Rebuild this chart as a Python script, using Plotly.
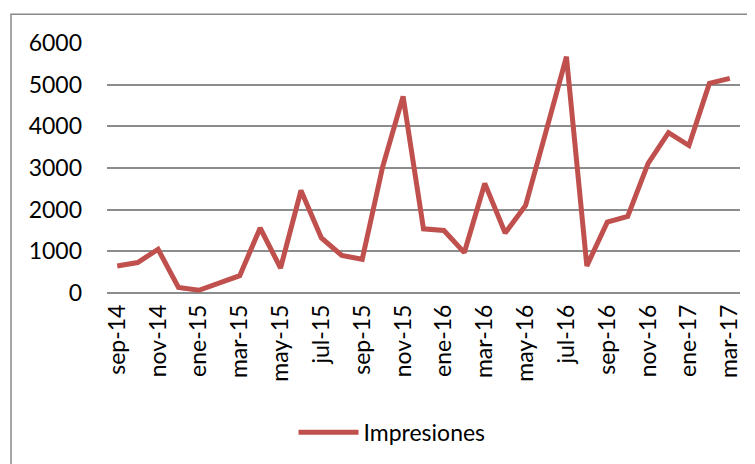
import plotly.graph_objects as go

months = ["sep-14", "oct-14", "nov-14", "dic-14", "ene-15", "feb-15", "mar-15", "abr-15",
          "may-15", "jun-15", "jul-15", "ago-15", "sep-15", "oct-15", "nov-15", "dic-15",
          "ene-16", "feb-16", "mar-16", "abr-16", "may-16", "jun-16", "jul-16", "ago-16",
          "sep-16", "oct-16", "nov-16", "dic-16", "ene-17", "feb-17", "mar-17"]
impresiones = [650, 730, 1050, 135, 65, 240, 415, 1560, 600, 2460, 1320, 900, 810, 3030,
               4720, 1540, 1500, 970, 2630, 1440, 2100, 3880, 5670, 650, 1700, 1840, 3110,
               3850, 3540, 5030, 5150]
tick_labels = months[::2]
y_ticks = [0, 1000, 2000, 3000, 4000, 5000, 6000]

FONT = "Lato"
grid = "#8c8c8c"

fig = go.Figure()
fig.add_trace(go.Scatter(
    x=months, y=impresiones, mode="lines", name="Impresiones",
    line=dict(color="#C0504D", width=5, shape="linear"),
))

# the page body adds an 8px offset; positions below are relative to the figure
OFF = 8
W, H = 755, 464
L, T = 107 - OFF, 42.7 - OFF
R = W - (740 - OFF)
B = H - (293.3 - OFF)
pw, ph = W - L - R, H - T - B
plot_bottom = 293.3 - OFF

fig.update_layout(
    width=W, height=H,
    margin=dict(l=L, r=R, t=T, b=B, pad=0, autoexpand=False),
    paper_bgcolor="white", plot_bgcolor="white",
    font=dict(family=FONT, size=23, color="#000000"),
    showlegend=True,
    legend=dict(orientation="h", x=(392 - OFF - L) / pw, xanchor="center",
                y=(plot_bottom - (433 - OFF)) / ph, yanchor="middle",
                font=dict(family=FONT, size=23), itemwidth=60,
                bgcolor="rgba(0,0,0,0)"),
    xaxis=dict(type="category", categoryorder="array", categoryarray=months,
               range=[-0.5, len(months) - 0.5],
               tickmode="array", tickvals=tick_labels, ticktext=tick_labels,
               tickangle=-90, showgrid=False, showline=False, zeroline=False,
               ticks="", ticklabelstandoff=6),
    yaxis=dict(range=[0, 6000], tickvals=y_ticks, showgrid=True, gridcolor=grid,
               gridwidth=1.5, zeroline=True, zerolinecolor=grid, zerolinewidth=1.5,
               showline=False, ticks="", ticklabelstandoff=24),
    shapes=[dict(type="rect", xref="paper", yref="paper",
                 x0=(11 - OFF - L) / pw, x1=(W + 20 - L) / pw,
                 y0=(plot_bottom - (H + 20)) / ph, y1=(plot_bottom - (14 - OFF)) / ph,
                 line=dict(color="#888888", width=1.5), layer="below")],
)

fig.write_html("out.html")
